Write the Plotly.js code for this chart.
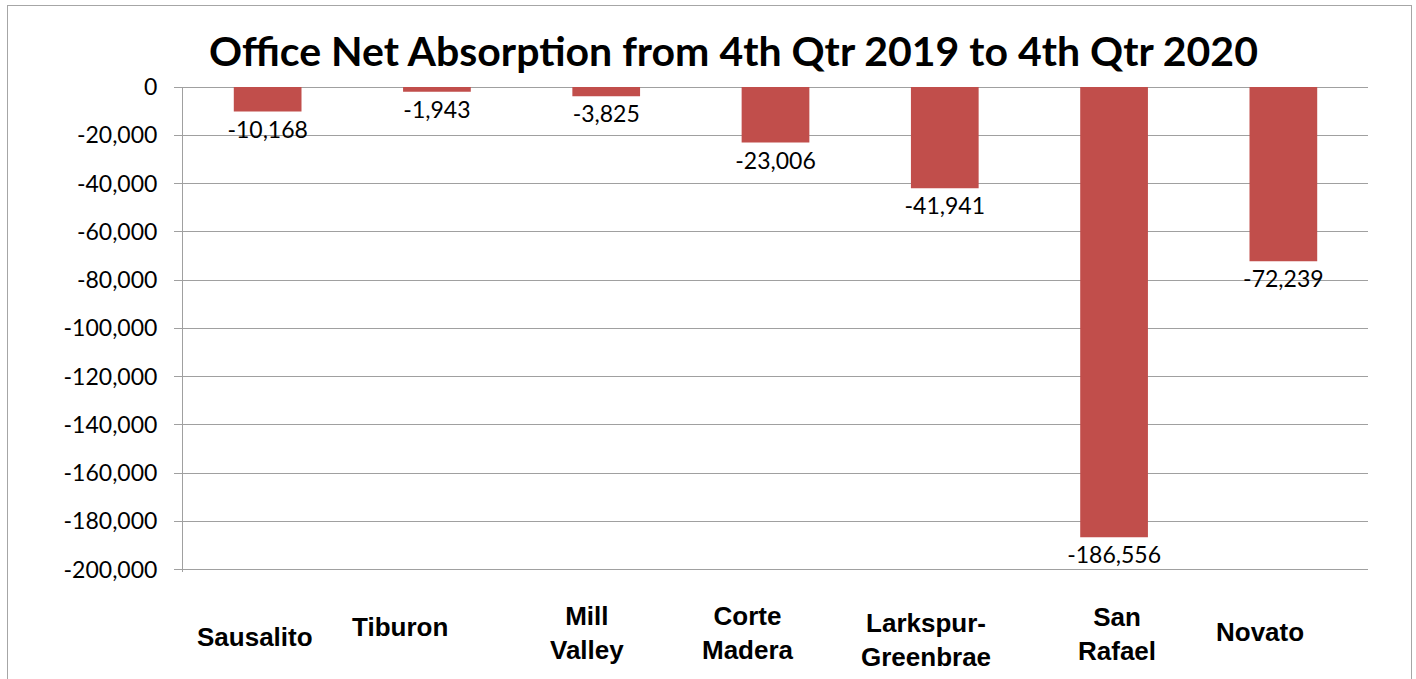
<!DOCTYPE html>
<html>
<head>
<meta charset="utf-8">
<script src="https://cdn.plot.ly/plotly-3.0.1.min.js"></script>
<style>
  html, body { margin: 0; padding: 0; background: #fff; overflow: hidden; }
  #chart { position: absolute; left: 0; top: 0; width: 1416px; height: 679px; }
  #frame { position: absolute; left: 7px; top: 5px; width: 1403px; height: 700px;
           border: 1px solid #a6a6a6; pointer-events: none; }
</style>
</head>
<body>
<div id="chart"></div>
<div id="frame"></div>
<script>
// ---- data ----
const categories = ["Sausalito", "Tiburon", "Mill Valley", "Corte Madera", "Larkspur-Greenbrae", "San Rafael", "Novato"];
const categoryLabels = ["Sausalito", "Tiburon", "Mill<br>Valley", "Corte<br>Madera", "Larkspur-<br>Greenbrae", "San<br>Rafael", "Novato"];
const netAbsorption = [-10168, -1943, -3825, -23006, -41941, -186556, -72239];
const yTickValues = [0, -20000, -40000, -60000, -80000, -100000, -120000, -140000, -160000, -180000, -200000];
const chartTitle = "Office Net Absorption from 4th Qtr 2019 to 4th Qtr 2020";

// ---- layout tweaks for category labels (pixel shifts, not data) ----
const labelShifts = [[-13, -67], [-37, -57], [-19, -63], [-28, -63], [-19, -70], [3, -64], [-23, -62]];

const fmt = v => v.toLocaleString('en-US');

const trace = {
  type: 'bar',
  x: categories,
  y: netAbsorption,
  width: 0.4,
  marker: { color: '#c14e4b', line: { width: 0 } },
  text: netAbsorption.map(fmt),
  texttemplate: '%{text}',
  textposition: 'outside',
  constraintext: 'none',
  cliponaxis: false,
  outsidetextfont: { family: 'Lato, sans-serif', size: 23, color: '#000' },
  hoverinfo: 'skip'
};

const annotations = categories.map((c, i) => ({
  x: c, xref: 'x',
  y: 0, yref: 'paper',
  text: '<b>' + categoryLabels[i] + '</b>',
  showarrow: false,
  xanchor: 'center', yanchor: 'middle',
  xshift: labelShifts[i][0], yshift: labelShifts[i][1] + 2,
  font: { family: 'Liberation Sans, Arial, sans-serif', size: 26, color: '#000' },
  align: 'center'
}));

const layout = {
  width: 1416, height: 679,
  margin: { l: 183, r: 48, t: 87, b: 107 },
  paper_bgcolor: '#fff', plot_bgcolor: '#fff',
  showlegend: false,
  title: {
    text: '<b>' + chartTitle + '</b>',
    font: { family: 'Lato, sans-serif', size: 41, color: '#000' },
    x: 0.518, xanchor: 'center',
    y: 0.924, yanchor: 'middle', yref: 'container'
  },
  xaxis: {
    showticklabels: false, showline: false, ticks: '', showgrid: false, zeroline: false,
    fixedrange: true
  },
  yaxis: {
    range: [-201000, 0],
    tickvals: yTickValues,
    ticktext: yTickValues.map(fmt),
    ticks: 'outside', ticklen: 8, tickcolor: '#a0a0a0', tickwidth: 1,
    ticklabelstandoff: 12,
    showline: true, linecolor: '#a0a0a0', linewidth: 1,
    showgrid: true, gridcolor: '#a0a0a0', gridwidth: 1,
    zeroline: true, zerolinecolor: '#a0a0a0', zerolinewidth: 1,
    tickfont: { family: 'Lato, sans-serif', size: 23, color: '#000' },
    fixedrange: true
  },
  annotations: annotations
};

Plotly.newPlot('chart', [trace], layout, { displayModeBar: false, staticPlot: true });
</script>
</body>
</html>
